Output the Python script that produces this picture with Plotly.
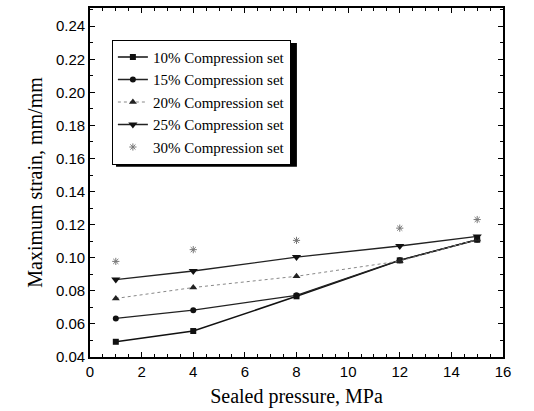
import plotly.graph_objects as go

pressure = [1, 4, 8, 12, 15]
s10 = [0.0492, 0.0557, 0.0767, 0.0984, 0.1109]
s15 = [0.0633, 0.0683, 0.0773, 0.0985, 0.1110]
s20 = [0.0754, 0.0820, 0.0888, 0.0980, 0.1110]
s25 = [0.0868, 0.0920, 0.1004, 0.1071, 0.1129]
s30 = [0.0978, 0.1049, 0.1105, 0.1179, 0.1231]
names = ["10% Compression set", "15% Compression set", "20% Compression set",
         "25% Compression set", "30% Compression set"]

fig = go.Figure()
fig.add_trace(go.Scatter(x=pressure, y=s10, name=names[0], mode="lines+markers",
                         line=dict(color="#111", width=1.5),
                         marker=dict(symbol="square", size=6, color="#111")))
fig.add_trace(go.Scatter(x=pressure, y=s15, name=names[1], mode="lines+markers",
                         line=dict(color="#222", width=1.3),
                         marker=dict(symbol="circle", size=6, color="#111")))
fig.add_trace(go.Scatter(x=pressure, y=s20, name=names[2], mode="lines+markers",
                         line=dict(color="#888", width=1, dash="dot"),
                         marker=dict(symbol="triangle-up", size=7, color="#222")))
fig.add_trace(go.Scatter(x=pressure, y=s25, name=names[3], mode="lines+markers",
                         line=dict(color="#222", width=1.3),
                         marker=dict(symbol="triangle-down", size=8, color="#111")))
fig.add_trace(go.Scatter(x=pressure, y=s30, name=names[4], mode="markers",
                         marker=dict(symbol="asterisk-open", size=6, color="#777",
                                     line=dict(color="#777", width=1))))

axis_common = dict(showline=True, linecolor="black", linewidth=1.8, mirror="ticks",
                   ticks="inside", ticklen=5, tickcolor="black", tickwidth=1.2,
                   showgrid=False, zeroline=False,
                   tickfont=dict(family="Liberation Sans, Arial", size=15, color="black"),
                   minor=dict(ticks="inside", ticklen=3, tickcolor="black"))

# legend drop shadow (paper coordinates of the plot area)
fig.add_shape(type="rect", xref="paper", yref="paper",
              x0=0.063, x1=0.501, y0=0.545, y1=0.900,
              fillcolor="black", line=dict(width=0), layer="above")

fig.update_layout(
    width=534, height=411,
    margin=dict(l=90, r=31, t=6, b=54),
    paper_bgcolor="white", plot_bgcolor="white",
    xaxis=dict(range=[0, 16], dtick=2,
               title=dict(text="Sealed pressure, MPa", standoff=10,
                          font=dict(family="Liberation Serif, DejaVu Serif", size=20, color="black")),
               **axis_common),
    yaxis=dict(range=[0.04, 0.251], tickvals=[0.04, 0.06, 0.08, 0.10, 0.12, 0.14, 0.16, 0.18, 0.20, 0.22, 0.24],
               tickformat=".2f",
               title=dict(text="Maximum strain, mm/mm", standoff=8,
                          font=dict(family="Liberation Serif, DejaVu Serif", size=20, color="black")),
               **axis_common),
    legend=dict(x=0.053, y=0.909, xanchor="left", yanchor="top",
                bgcolor="white", bordercolor="black", borderwidth=1,
                font=dict(family="Liberation Serif, DejaVu Serif", size=15, color="black"),
                tracegroupgap=0),
    showlegend=True,
)

fig.write_html("out.html")
